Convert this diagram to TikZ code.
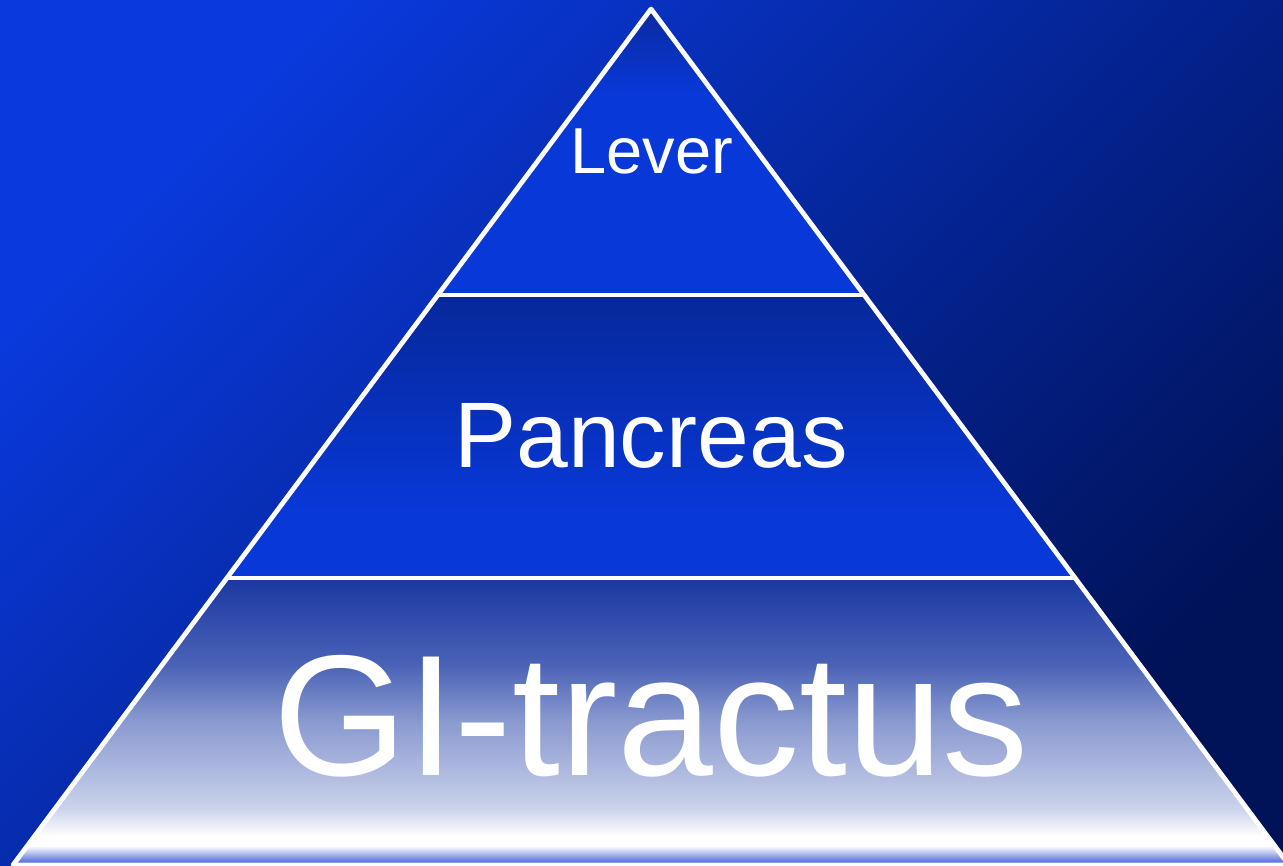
\documentclass[tikz,border=0pt]{standalone}
\usepackage{fontspec}
\setmainfont{Liberation Sans}
\usepackage{xcolor}
\usepackage{tikz}
\usetikzlibrary{positioning}

\definecolor{nenTren}{HTML}{0A3ADE}
\definecolor{nenDuoi}{HTML}{001258}
\definecolor{xanhSang}{HTML}{0838D8}
\definecolor{xanhTop}{HTML}{0A2AA0}
\definecolor{xanhGiua}{HTML}{06289A}
\definecolor{xanhDay}{HTML}{3454D4}
\definecolor{xanhDayGiua}{HTML}{7088E0}

% Thang màu cho ba tầng
\pgfdeclareverticalshading{tang1}{100bp}{color(0bp)=(xanhSang); color(60bp)=(xanhSang); color(75bp)=(xanhTop); color(100bp)=(xanhTop)}
\pgfdeclareverticalshading{tang2}{100bp}{color(0bp)=(xanhSang); color(36bp)=(xanhSang); color(75bp)=(xanhGiua); color(100bp)=(xanhGiua)}
\pgfdeclareverticalshading{tang3}{100bp}{color(0bp)=(white); color(30bp)=(white); color(35bp)=(rgb,255:red,202;green,210;blue,236); color(40bp)=(rgb,255:red,180;green,190;blue,226); color(50bp)=(rgb,255:red,138;green,154;blue,208); color(60bp)=(rgb,255:red,74;green,98;blue,182); color(70bp)=(rgb,255:red,42;green,70;blue,170); color(75bp)=(rgb,255:red,26;green,56;blue,160); color(100bp)=(rgb,255:red,26;green,56;blue,160)}

\begin{document}
\begin{tikzpicture}[x=0.02cm, y=-0.02cm, line join=round,
    vien/.style={draw=white, line width=2.7pt},
    chu/.style={text=white, anchor=base, inner sep=0pt}]
    % Nền
    \useasboundingbox (0,0) rectangle (1283,865);
    \shade[top color=nenTren, bottom color=nenDuoi, shading angle=45] (0,0) rectangle (1283,865);

    % Các đỉnh của kim tự tháp
    \coordinate (A) at (651,9);
    \coordinate (B1) at (438,295);
    \coordinate (C1) at (864,295);
    \coordinate (B2) at (227,578);
    \coordinate (C2) at (1075,578);
    \coordinate (B3) at (13,865);
    \coordinate (C3) at (1289,865);
    \coordinate (D1) at (26,846);
    \coordinate (D2) at (1276,846);

    % Ba tầng
    \shade[shading=tang1] (A) -- (B1) -- (C1) -- cycle;
    \shade[shading=tang2] (B1) -- (B2) -- (C2) -- (C1) -- cycle;
    \shade[shading=tang3] (B2) -- (B3) -- (C3) -- (C2) -- cycle;
    % Dải xanh ở đáy
    \shade[top color=white, middle color=xanhDayGiua, bottom color=xanhDay] (D1) -- (B3) -- (C3) -- (D2) -- cycle;

    % Viền trắng
    \draw[vien] (A) -- (B3) -- (C3) -- cycle;
    \draw[vien] (B1) -- (C1);
    \draw[vien] (B2) -- (C2);

    % Nhãn
    \node[chu, font=\fontsize{37}{40}\selectfont] (lever) at (652,173) {Lever};
    \node[chu, font=\fontsize{53}{60}\selectfont] (pancreas) at (651,467) {Pancreas};
    \node[chu, font=\fontsize{98}{110}\selectfont] (gitractus) at (651,775) {GI-tractus};
\end{tikzpicture}
\end{document}
